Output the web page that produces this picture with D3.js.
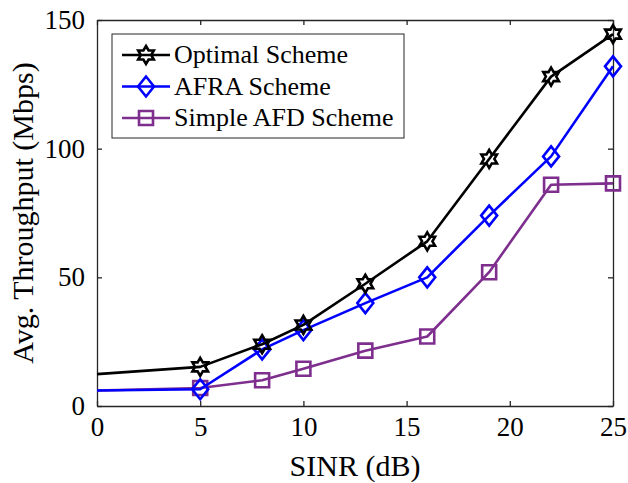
<!DOCTYPE html>
<html>
<head>
<meta charset="utf-8">
<script src="https://cdn.jsdelivr.net/npm/d3@7"></script>
<style>
  body { margin: 0; background: #fff; }
  svg { display: block; }
</style>
</head>
<body>
<div class="chart"></div>
<script>
// data
const sinr = [0, 5, 8, 10, 13, 16, 19, 22, 25];
const optimal = [12.4, 15.2, 24, 31.5, 47.5, 64, 96, 128, 144.5];
const afra = [6, 6.5, 22, 29.5, 40, 50, 74, 97, 132];
const simpleAfd = [6, 7, 10, 14.5, 21.5, 27, 52, 86, 86.5];
const seriesNames = ["Optimal Scheme", "AFRA Scheme", "Simple AFD Scheme"];
const xTicks = [0, 5, 10, 15, 20, 25];
const yTicks = [0, 50, 100, 150];

const width = 628, height = 483;
const margin = { left: 97, right: 15, top: 20, bottom: 77 };
const font = "'Liberation Serif', 'Times New Roman', serif";

const svg = d3.select(".chart").append("svg")
  .attr("width", width)
  .attr("height", height);

const x = d3.scaleLinear().domain([0, 25]).range([margin.left, width - margin.right]);
const y = d3.scaleLinear().domain([0, 150]).range([height - margin.bottom, margin.top]);

const axisColor = "#262626";

// axes: ticks inward, box all round
const xAxis = svg.append("g")
  .attr("transform", "translate(0," + y(0) + ")")
  .call(d3.axisBottom(x).tickValues(xTicks).tickSizeInner(-5).tickSizeOuter(0).tickPadding(11));
const xTop = svg.append("g")
  .attr("transform", "translate(0," + y(150) + ")")
  .call(d3.axisTop(x).tickValues(xTicks).tickSizeInner(-5).tickSizeOuter(0).tickFormat(""));
const yAxis = svg.append("g")
  .attr("transform", "translate(" + x(0) + ",0)")
  .call(d3.axisLeft(y).tickValues(yTicks).tickSizeInner(-5).tickSizeOuter(0).tickPadding(12));
const yRight = svg.append("g")
  .attr("transform", "translate(" + x(25) + ",0)")
  .call(d3.axisRight(y).tickValues(yTicks).tickSizeInner(-5).tickSizeOuter(0).tickFormat(""));

[xAxis, xTop, yAxis, yRight].forEach(g => {
  g.selectAll("path, line").attr("stroke", axisColor).attr("stroke-width", 1.3);
  g.selectAll("text")
    .attr("fill", "#000")
    .style("font-family", font)
    .style("font-size", "27px");
});

// axis titles
svg.append("text")
  .attr("x", x(12.5))
  .attr("y", 476)
  .attr("text-anchor", "middle")
  .style("font-family", font)
  .style("font-size", "30px")
  .text("SINR (dB)");

svg.append("text")
  .attr("transform", "translate(33," + y(75) + ") rotate(-90)")
  .attr("text-anchor", "middle")
  .style("font-family", font)
  .style("font-size", "30px")
  .text("Avg. Throughput (Mbps)");

// marker shapes
function hexagram(r) {
  const pts = [];
  for (let i = 0; i < 12; i++) {
    const a = -Math.PI / 2 + i * Math.PI / 6;
    const rr = i % 2 === 0 ? r : r / Math.sqrt(3);
    pts.push([rr * Math.cos(a), rr * Math.sin(a)]);
  }
  return "M" + pts.map(p => p.join(",")).join("L") + "Z";
}
function diamond(r) {
  return "M0," + (-r * 1.25) + "L" + r + ",0L0," + (r * 1.25) + "L" + (-r) + ",0Z";
}
function square(r) {
  return "M" + -r + "," + -r + "H" + r + "V" + r + "H" + -r + "Z";
}

const series = [
  { name: seriesNames[0], values: optimal, color: "#000000", shape: hexagram(9) },
  { name: seriesNames[1], values: afra, color: "#0000ff", shape: diamond(8) },
  { name: seriesNames[2], values: simpleAfd, color: "#7e2f8e", shape: square(7) }
];

const line = d3.line()
  .x(d => x(d[0]))
  .y(d => y(d[1]));

// draw in reverse so the optimal curve ends up on top
series.slice().reverse().forEach(s => {
  const pts = sinr.map((v, i) => [v, s.values[i]]);
  svg.append("path")
    .datum(pts)
    .attr("d", line)
    .attr("fill", "none")
    .attr("stroke", s.color)
    .attr("stroke-width", 2.6)
    .attr("stroke-linejoin", "round");

  svg.selectAll(null)
    .data(pts.slice(1))   // no marker on the first point
    .enter()
    .append("path")
    .attr("d", s.shape)
    .attr("transform", d => "translate(" + x(d[0]) + "," + y(d[1]) + ")")
    .attr("fill", "none")
    .attr("stroke", s.color)
    .attr("stroke-width", 2.6);
});

// legend
const legend = svg.append("g");
legend.append("rect")
  .attr("x", 112).attr("y", 34)
  .attr("width", 292).attr("height", 104)
  .attr("fill", "#fff")
  .attr("stroke", axisColor)
  .attr("stroke-width", 1);

series.forEach((s, i) => {
  const ly = 55 + i * 31.5;
  legend.append("line")
    .attr("x1", 122).attr("x2", 170)
    .attr("y1", ly).attr("y2", ly)
    .attr("stroke", s.color)
    .attr("stroke-width", 2.6);
  legend.append("path")
    .attr("d", s.shape)
    .attr("transform", "translate(146," + ly + ")")
    .attr("fill", "none")
    .attr("stroke", s.color)
    .attr("stroke-width", 2.6);
  legend.append("text")
    .attr("x", 174)
    .attr("y", ly + 8)
    .style("font-family", font)
    .style("font-size", "26px")
    .text(s.name);
});
</script>
</body>
</html>
